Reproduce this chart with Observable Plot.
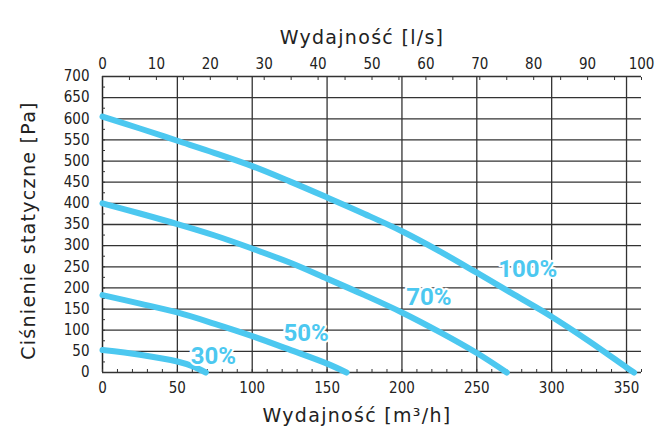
<!DOCTYPE html>
<html><head><meta charset="utf-8">
<script src="https://cdn.jsdelivr.net/npm/d3@7"></script>
<script src="https://cdn.jsdelivr.net/npm/@observablehq/plot@0.6"></script>
<style>body{margin:0;background:#fff}</style>
</head><body><div id="chart"></div>
<script>
// Flow in m³/h and static pressure in Pa
const curve100 = [[0,605],[25,577],[50,548],[75,519],[100,488],[125,452],[150,414],[175,375],[200,334],[225,287],[250,236],[275,184],[300,132],[325,74],[350,12],[355,0]];
const curve70 = [[0,400],[25,376],[50,351],[75,324],[100,293],[125,260],[150,222],[175,183],[200,142],[225,96],[250,46],[270,0]];
const curve50 = [[0,183],[25,163],[50,142],[75,115],[100,86],[125,54],[150,21],[163,0]];
const curve30 = [[0,53],[25,42],[50,26],[60,15],[69,0]];
const seriesNames = ["100%","70%","50%","30%"];
const labelPos = [[284,243],[218,177],[136,93],[74,38]]; // label centres in data units
const bottomTicks = [0,50,100,150,200,250,300,350];
const topTicksLs = [0,10,20,30,40,50,60,70,80,90,100];
const yTicks = [0,50,100,150,200,250,300,350,400,450,500,550,600,650,700];
const xMinor = d3.range(0,361,10);
const topMinorLs = d3.range(0,101,5);
const yMinor = d3.range(0,701,25);
const LS_TO_M3H = 3.6;
const titleTop = "Wydajność [l/s]";
const titleBottom = "Wydajność [m³/h]";
const titleLeft = "Ciśnienie statyczne [Pa]";

const blue = "#4CC8F0";
const narrow = "'Liberation Sans Narrow','DejaVu Sans Condensed',sans-serif";
const labelFont = "Roboto, 'DejaVu Sans', sans-serif";
const titleFont = "'DejaVu Sans', sans-serif";

const curves = [curve100, curve70, curve50, curve30];
const lineData = curves.flatMap((c,i)=>c.map(([x,y])=>({x,y,s:seriesNames[i]})));
const labels = labelPos.map(([x,y],i)=>({x,y,t:seriesNames[i]}));

const chart = Plot.plot({
  width:667, height:437,
  marginLeft:102, marginRight:26, marginTop:76, marginBottom:65,
  x:{domain:[0,360]}, y:{domain:[0,700]},
  style:{fontFamily:narrow, fontSize:"15px", color:"#222", background:"white"},
  marks:[
    Plot.ruleY(yTicks, {stroke:"#333", strokeWidth:1.3}),
    Plot.ruleX(bottomTicks.filter(d=>d>0), {stroke:"#333", strokeWidth:1.3}),
    Plot.ruleX([0], {stroke:"#222", strokeWidth:1.5}),
    Plot.axisX({anchor:"bottom", ticks:xMinor, tickSize:-3, text:null, label:null, stroke:"#333"}),
    Plot.axisX({anchor:"top", ticks:topMinorLs.map(d=>d*LS_TO_M3H), tickSize:-3, text:null, label:null, stroke:"#333"}),
    Plot.axisY({anchor:"left", ticks:yMinor, tickSize:-3, text:null, label:null, stroke:"#333"}),
    Plot.axisX({anchor:"bottom", ticks:bottomTicks, tickSize:0, tickPadding:10, label:null, fontSize:15}),
    Plot.axisX({anchor:"top", ticks:topTicksLs.map(d=>d*LS_TO_M3H), tickFormat:d=>Math.round(d/LS_TO_M3H), tickSize:0, tickPadding:8, label:null, fontSize:15}),
    Plot.axisY({anchor:"left", ticks:yTicks, tickSize:0, tickPadding:13, label:null, fontSize:15}),
    Plot.line(lineData, {x:"x", y:"y", z:"s", stroke:blue, strokeWidth:6, curve:"catmull-rom"}),
    Plot.text(labels, {x:"x", y:"y", text:"t", fill:blue, stroke:"white", strokeWidth:4, fontWeight:"bold", fontSize:24, fontFamily:labelFont}),
    Plot.text([titleTop], {frameAnchor:"top", textAnchor:"middle", lineAnchor:"middle", dx:-10, dy:-39, text:d=>d, fontSize:19, fontFamily:titleFont, fill:"#222"}),
    Plot.text([titleBottom], {frameAnchor:"bottom", textAnchor:"middle", lineAnchor:"middle", dx:-15, dy:43, text:d=>d, fontSize:19, fontFamily:titleFont, fill:"#222"}),
    Plot.text([titleLeft], {frameAnchor:"left", textAnchor:"middle", lineAnchor:"middle", dx:-74, dy:6, rotate:-90, text:d=>d, fontSize:19, fontFamily:titleFont, fill:"#222"})
  ]
});
d3.select(chart).selectAll("text").filter(function(){
  const t = this.textContent; return t===titleTop||t===titleBottom||t===titleLeft;
}).attr("letter-spacing","1.3px");
document.getElementById("chart").appendChild(chart);
</script></body></html>
